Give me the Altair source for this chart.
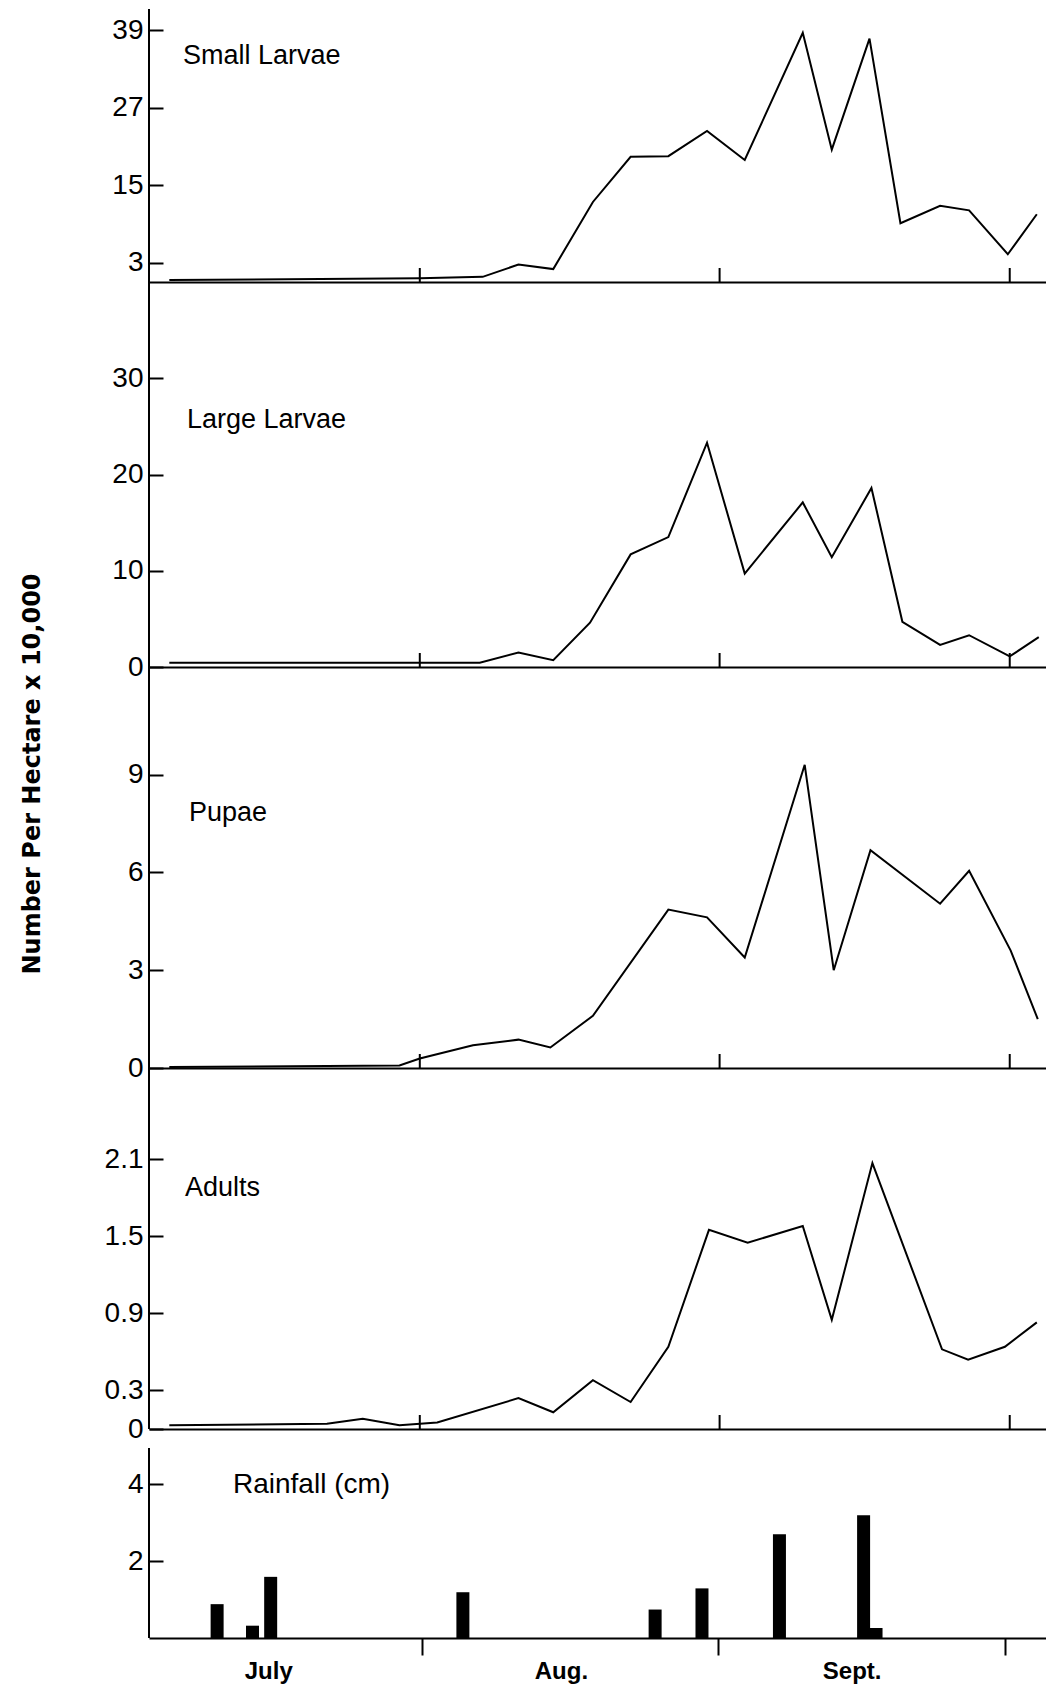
import altair as alt
import pandas as pd

# Sampling dates as day numbers counted from 1 July (1 Aug = 31, 1 Sept = 62, 1 Oct = 92)
small_days = [5.1, 31.0, 37.5, 41.2, 44.8, 48.9, 52.8, 56.7, 60.7, 64.6, 70.6, 73.6, 77.5, 80.7, 84.8, 87.8, 91.8, 94.8]
small_vals = [0.3, 0.6, 0.8, 2.7, 2.0, 12.4, 19.4, 19.5, 23.4, 18.9, 38.6, 20.5, 37.7, 9.1, 11.8, 11.1, 4.3, 10.5]

large_days = [5.1, 37.2, 41.2, 44.8, 48.6, 52.8, 56.7, 60.7, 64.6, 70.6, 73.6, 77.7, 80.9, 84.8, 87.8, 92.0, 95.0]
large_vals = [0.45, 0.45, 1.5, 0.7, 4.6, 11.7, 13.5, 23.3, 9.7, 17.1, 11.4, 18.6, 4.7, 2.3, 3.3, 1.1, 3.1]

pupae_days = [5.1, 28.9, 31.0, 36.5, 41.2, 44.5, 48.9, 56.7, 60.7, 64.6, 70.8, 73.8, 77.6, 84.8, 87.8, 92.1, 94.9]
pupae_vals = [0.03, 0.08, 0.29, 0.70, 0.87, 0.63, 1.6, 4.86, 4.62, 3.39, 9.3, 3.0, 6.68, 5.04, 6.05, 3.6, 1.5]

adult_days = [5.1, 21.4, 25.1, 28.9, 32.8, 41.2, 44.8, 48.9, 52.8, 56.7, 60.9, 64.9, 70.6, 73.6, 77.8, 85.0, 87.7, 91.5, 94.8]
adult_vals = [0.03, 0.04, 0.08, 0.03, 0.05, 0.24, 0.13, 0.38, 0.21, 0.64, 1.55, 1.45, 1.58, 0.85, 2.07, 0.62, 0.54, 0.64, 0.83]

rain_days = [9.6, 13.3, 15.2, 35.3, 55.4, 60.3, 68.4, 77.2, 78.5]
rain_vals = [0.88, 0.32, 1.59, 1.19, 0.74, 1.29, 2.70, 3.19, 0.26]

month_ticks = [31, 62, 92]
month_names = ["July", "Aug.", "Sept."]
month_mid = [15.0, 45.6, 76.0]

panel_names = ["Small Larvae", "Large Larvae", "Pupae", "Adults", "Rainfall (cm)"]
y_title = "Number Per Hectare x 10,000"

W = 897
X_DOMAIN = [3.0, 95.75]
LABEL_FONT = "Liberation Sans, Arimo, Arial, sans-serif"
TITLE_FONT = "DejaVu Sans, Verdana, sans-serif"

x_scale = alt.Scale(domain=X_DOMAIN, nice=False, zero=False)

x_axis_plain = alt.Axis(domain=True, domainWidth=2, domainColor="black", ticks=False,
                        labels=False, grid=False, title=None)
x_axis_rain = alt.Axis(values=month_ticks, domain=True, domainWidth=2, domainColor="black",
                       ticks=True, tickSize=17, tickWidth=2, tickColor="black",
                       labels=False, grid=False, title=None)


def y_axis(ticks, fmt=None):
    # ticks point into the plot: the axis is shifted inward by the tick length
    kw = dict(values=ticks, offset=-14, tickSize=14, tickWidth=2, tickColor="black",
              domain=False, grid=False, title=None, labelFont=LABEL_FONT,
              labelFontSize=28, labelColor="black", labelPadding=6,
              labelOverlap=False, labelFlush=False)
    if fmt is not None:
        kw["format"] = fmt
    return alt.Axis(**kw)


def frame(h, x_axis, top=0, month_marks=True):
    left = alt.Chart(pd.DataFrame({"z": [0]})).mark_rule(color="black", strokeWidth=2).encode(
        x=alt.value(0), y=alt.value(top), y2=alt.value(h))
    layers = [left]
    if month_marks:
        mt = alt.Chart(pd.DataFrame({"day": month_ticks})).mark_rule(
            color="black", strokeWidth=2).encode(
            x=alt.X("day:Q", scale=x_scale, axis=x_axis),
            y=alt.value(h), y2=alt.value(h - 14))
        layers.append(mt)
    return layers


def label(name, lx, ly, size=27):
    return alt.Chart(pd.DataFrame({"t": [name]})).mark_text(
        align="left", baseline="alphabetic", font=LABEL_FONT, fontSize=size,
        color="black").encode(x=alt.value(lx), y=alt.value(ly), text="t:N")


def line_panel(days, vals, name, ymax, ticks, h, lx, ly, extra=None, fmt=None):
    df = pd.DataFrame({"day": days, "value": vals})
    line = alt.Chart(df).mark_line(color="black", strokeWidth=2).encode(
        x=alt.X("day:Q", scale=x_scale, axis=x_axis_plain),
        y=alt.Y("value:Q", scale=alt.Scale(domain=[0, ymax], nice=False, zero=True),
                axis=y_axis(ticks, fmt)),
    )
    layers = [line] + frame(h, x_axis_plain) + [label(name, lx, ly)]
    if extra is not None:
        layers.append(extra)
    return alt.layer(*layers).properties(width=W, height=h)


ytitle = alt.Chart(pd.DataFrame({"t": [y_title]})).mark_text(
    angle=270, align="center", baseline="middle", font=TITLE_FONT, fontSize=24,
    fontWeight="bold", color="black").encode(x=alt.value(-116), y=alt.value(107), text="t:N")

p1 = line_panel(small_days, small_vals, panel_names[0], 42.3, [3, 15, 27, 39], 273, 34, 55)
p2 = line_panel(large_days, large_vals, panel_names[1], 40.0, [0, 10, 20, 30], 385, 38, 146)
p3 = line_panel(pupae_days, pupae_vals, panel_names[2], 12.3, [0, 3, 6, 9], 401, 40, 154,
                extra=ytitle)
p4 = line_panel(adult_days, adult_vals, panel_names[3], 2.81, [0, 0.3, 0.9, 1.5, 2.1], 361,
                36, 128, fmt=".1~f")

# rainfall panel: its plot area also holds the gap above it; the frame starts GAP px down
GAP = 19
H5 = 190 + GAP
rain_df = pd.DataFrame({"day": rain_days, "rain": rain_vals})
bars = alt.Chart(rain_df).mark_bar(color="black", size=13).encode(
    x=alt.X("day:Q", scale=x_scale, axis=x_axis_rain),
    y=alt.Y("rain:Q", scale=alt.Scale(domain=[0, 4.94 * H5 / 190], nice=False, zero=True),
            axis=y_axis([2, 4])),
)
months = alt.Chart(pd.DataFrame({"day": month_mid, "name": month_names})).mark_text(
    baseline="alphabetic", font=LABEL_FONT, fontSize=24, fontWeight="bold",
    color="black").encode(
    x=alt.X("day:Q", scale=x_scale, axis=x_axis_rain), y=alt.value(H5 + 41), text="name:N")
p5 = alt.layer(bars, *frame(H5, x_axis_rain, top=GAP, month_marks=False), months,
               label(panel_names[4], 84, GAP + 45, 28)).properties(width=W, height=H5)

chart = alt.vconcat(p1, p2, p3, p4, p5, spacing=0, bounds="flush").resolve_scale(
    y="independent").properties(
    padding={"left": 21, "top": 8, "right": 0, "bottom": 0},
    background="white",
).configure_view(stroke=None)

chart.save("out.html", embed_options={"renderer": "svg", "actions": False})
